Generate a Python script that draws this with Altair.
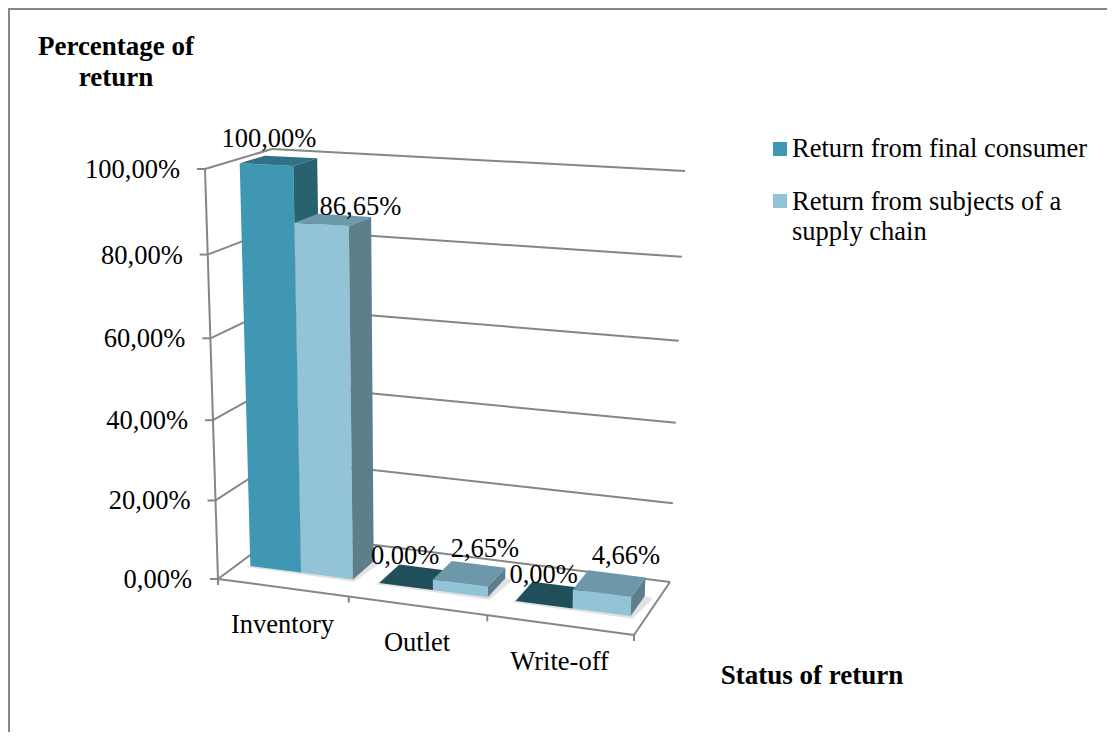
import altair as alt
import pandas as pd

# ---- chart values ----
categories = ["Inventory", "Outlet", "Write-off"]
series_names = ["Return from final consumer", "Return from subjects of a supply chain"]
final_consumer = [100.00, 0.00, 0.00]
supply_chain = [86.65, 2.65, 4.66]
tick_values = [0, 20, 40, 60, 80, 100]
tick_labels = ["0,00%", "20,00%", "40,00%", "60,00%", "80,00%", "100,00%"]
axis_titles = ["Percentage of", "return", "Status of return"]
legend_lines = ["Return from final consumer", "Return from subjects of a", "supply chain"]

# ---- 3D box of the plot, as seen in the page ----
W, H = 1099, 724
FLB, FLT = (218, 579), (205, 169)
BLB, BLT = (280, 533), (272, 149)
BRB, BRT = (670, 582), (685, 171)
FRB, FRT = (634, 635), (645, 190)
V0, V1 = 0.32, 0.70
GRID = "#868686"
FACES = [
    {"front": "#3F97B3", "side": "#28626F", "top": "#2F7287", "flat": "#204F5B"},
    {"front": "#92C3D6", "side": "#5D7F8C", "top": "#6C98AA", "flat": "#6C98AA"},
]
FONT = "Liberation Serif"
TEXT_SIZE = 26.5
BOLD_SIZE = 27


def warp(s, k):
    return s / (1 + k * (1 - s))


def project(s, v, h):
    u, w = warp(s, 0.09), warp(h, 0.055)
    pts = []
    for i in (0, 1):
        f = [a + (b - a) * w for a, b in zip(FLB, FLT)]
        f2 = [a + (b - a) * w for a, b in zip(FRB, FRT)]
        b1 = [a + (b - a) * w for a, b in zip(BLB, BLT)]
        b2 = [a + (b - a) * w for a, b in zip(BRB, BRT)]
        front = f[i] + (f2[i] - f[i]) * u
        back = b1[i] + (b2[i] - b1[i]) * u
        pts.append(front + (back - front) * v)
    return pts


polys, lines, texts = [], [], []
poly_count = [0]


def add_poly(corners, color):
    pid = poly_count[0]
    poly_count[0] += 1
    for n, c in enumerate(corners):
        x, y = project(*c)
        polys.append({"pid": f"p{pid:04d}", "n": n, "x": x, "y": y, "col": color})


def add_line(a, b, dx=(0, 0), dy=(0, 0)):
    lid = f"l{len(lines):04d}"
    pa, pb = project(*a), project(*b)
    lines.append({"lid": lid, "n": 0, "x": pa[0] + dx[0], "y": pa[1] + dy[0]})
    lines.append({"lid": lid, "n": 1, "x": pb[0] + dx[1], "y": pb[1] + dy[1]})


def add_text(t, x, y, size=TEXT_SIZE, weight="normal", align="center"):
    texts.append({"t": t, "x": x, "y": y, "size": size, "weight": weight, "align": align})


# walls and floor lines
for tv in tick_values:
    h = tv / 100
    add_line((0, 0, h), (0, 1, h))
    add_line((0, 1, h), (1, 1, h))
    add_line((0, 0, h), (0, 0, h), dx=(-8, 0))
add_line((0, 0, 0), (0, 0, 1))
add_line((0, 0, 0), (1, 0, 0))
add_line((1, 0, 0), (1, 1, 0))
for i in range(4):
    add_line((i / 3, 0, 0), (i / 3, 0, 0), dy=(0, 6))

# bars, in painter's order, with a faint floor shadow under each cluster
values = [final_consumer, supply_chain]
for c in range(len(categories)):
    c0 = (c + 0.1) / 3
    c1 = (c + 0.9) / 3
    add_poly([(c0 - 0.004, V0 - 0.03, 0), (c1 + 0.008, V0 - 0.04, 0),
              (c1 + 0.02, V1 - 0.02, 0), (c1 - 0.01, V1, 0), (c0, V1, 0)], "#E2E2E2")
    for k in range(2):
        s0 = (c + 0.1 + 0.4 * k) / 3
        s1 = (c + 0.5 + 0.4 * k) / 3
        h = values[k][c] / 100
        f = FACES[k]
        if h > 0:
            add_poly([(s0, V0, 0), (s1, V0, 0), (s1, V0, h), (s0, V0, h)], f["front"])
            add_poly([(s1, V0, 0), (s1, V1, 0), (s1, V1, h), (s1, V0, h)], f["side"])
            add_poly([(s0, V0, h), (s1, V0, h), (s1, V1, h), (s0, V1, h)], f["top"])
        else:
            add_poly([(s0, V0, h), (s1, V0, h), (s1, V1, h), (s0, V1, h)], f["flat"])

# value labels: anchored on the top of each bar, nudged as in the source
nudges = [[(-9, -14), (-10, -14), (-8, -12)], [(28, -5), (16, -17), (17, -20)]]
for k in range(2):
    for c in range(3):
        s = (c + 0.3 + 0.4 * k) / 3
        val = values[k][c]
        x, y = project(s, 0.5, val / 100)
        add_text(f"{val:.2f}%".replace(".", ","), x + nudges[k][c][0], y + nudges[k][c][1])

# axis text
for tv, lab in zip(tick_values, tick_labels):
    x, y = project(0, 0, tv / 100)
    add_text(lab, x - 25 if tv > 0 else 192, y + 9, align="right")
for c, name in enumerate(categories):
    x, y = project((c + 0.5) / 3, 0, 0)
    add_text(name, x, y + 45)
add_text(axis_titles[0], 116, 55, size=BOLD_SIZE, weight="bold")
add_text(axis_titles[1], 116, 86, size=BOLD_SIZE, weight="bold")
add_text(axis_titles[2], 812, 684, size=BOLD_SIZE, weight="bold")

# legend
legend_y = [149, 201]
legend_rows = [{"x": 780, "y": y, "col": FACES[k]["front"]} for k, y in enumerate(legend_y)]
add_text(legend_lines[0], 792, 157, align="left")
add_text(legend_lines[1], 792, 210, align="left")
add_text(legend_lines[2], 792, 240, align="left")

xs = alt.Scale(domain=[8, 8 + W], range=[0, W], nice=False, zero=False)
ys = alt.Scale(domain=[8 + H, 8], range=[H, 0], nice=False, zero=False)
X = lambda f="x": alt.X(f"{f}:Q", scale=xs, axis=None)
Y = lambda f="y": alt.Y(f"{f}:Q", scale=ys, axis=None)

border = pd.DataFrame({"x": [9, 9, 1107], "y": [732, 9, 9], "n": [0, 1, 2]})
border_layer = alt.Chart(border).mark_line(color="#868686", strokeWidth=2).encode(x=X(), y=Y(), order="n:Q")

line_layer = alt.Chart(pd.DataFrame(lines)).mark_line(color=GRID, strokeWidth=2).encode(
    x=X(), y=Y(), detail="lid:N", order="n:Q")

poly_layer = alt.Chart(pd.DataFrame(polys)).mark_line(filled=True, strokeWidth=0).encode(
    x=X(), y=Y(), detail="pid:N", order="n:Q", fill=alt.Fill("col:N", scale=None))

legend_layer = alt.Chart(pd.DataFrame(legend_rows)).mark_square(size=196, opacity=1).encode(
    x=X(), y=Y(), fill=alt.Fill("col:N", scale=None), stroke=alt.value(None))

text_df = pd.DataFrame(texts)
text_layers = []
for (size, weight, align), g in text_df.groupby(["size", "weight", "align"]):
    text_layers.append(
        alt.Chart(g).mark_text(font=FONT, fontSize=float(size), fontWeight=weight, align=align,
                               baseline="alphabetic", color="#000000").encode(
            x=X(), y=Y(), text="t:N"))

chart = alt.layer(border_layer, line_layer, poly_layer, legend_layer, *text_layers).properties(
    width=W, height=H, padding=0, autosize=alt.AutoSizeParams(type="none"), background="white"
).configure_view(stroke=None)

chart.save("out.html", embed_options={"renderer": "svg", "actions": False})
